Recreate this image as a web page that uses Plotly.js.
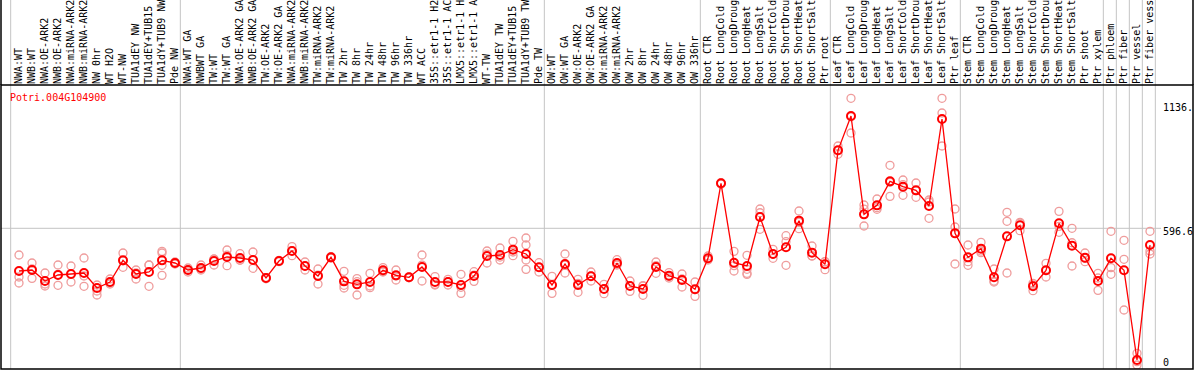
<!DOCTYPE html>
<html><head><meta charset="utf-8">
<script src="https://cdn.plot.ly/plotly-3.0.1.min.js"></script>
<style>html,body{margin:0;padding:0;background:#fff;overflow:hidden}</style>
</head><body>
<div id="chart" style="width:1194px;height:370px"></div>
<script>
const labels = [
 'NWA:WT','NWB:WT','NWA:OE-ARK2','NWB:OE-ARK2','NWA:miRNA-ARK2','NWB:miRNA-ARK2','NW 0hr','WT H2O','WT-NW','TUA1dEY NW','TUA1dEY+TUB15','TUA1dY+TUB9 NW','Pde NW',
 'NWA:WT GA','NWBWT GA','TW:WT','TW:WT GA','NWA:OE-ARK2 GA','NWB:OE-ARK2 GA','TW:OE-ARK2','TW:OE-ARK2 GA','NWA:miRNA-ARK2','NWB:miRNA-ARK2','TW:miRNA-ARK2','TW:miRNA-ARK2','TW 2hr','TW 8hr','TW 24hr','TW 48hr','TW 96hr','TW 336hr','WT ACC','35S::etr1-1 H2','35S::etr1-1 AC','LMX5::etr1-1 H','LMX5::etr1-1 A','WT-TW','TUA1dEY TW','TUA1dEY+TUB15','TUA1dY+TUB9 TW','Pde TW',
 'OW:WT','OW:WT GA','OW:OE-ARK2','OW:OE-ARK2 GA','OW:miRNA-ARK2','OW:miRNA-ARK2','OW 2hr','OW 8hr','OW 24hr','OW 48hr','OW 96hr','OW 336hr',
 'Root CTR','Root LongCold','Root LongDroug','Root LongHeat','Root LongSalt','Root ShortCold','Root ShortDrou','Root ShortHeat','Root ShortSalt','Ptr root',
 'Leaf CTR','Leaf LongCold','Leaf LongDroug','Leaf LongHeat','Leaf LongSalt','Leaf ShortCold','Leaf ShortDrou','Leaf ShortHeat','Leaf ShortSalt','Ptr leaf',
 'Stem CTR','Stem LongCold','Stem LongDroug','Stem LongHeat','Stem LongSalt','Stem ShortCold','Stem ShortDrou','Stem ShortHeat','Stem ShortSalt','Ptr shoot','Ptr xylem',
 'Ptr phloem','Ptr fiber','Ptr vessel','Ptr fiber vess'
];
const groupSizes = [13,28,12,10,10,11,1,1,1,1];

const means = [
 411.6,415.9,368.3,394.3,398.6,403.0,338.0,364.0,457.8,398.6,407.3,457.8,446.3,
 415.9,424.6,454.9,472.3,467.9,459.3,381.3,454.9,498.3,433.3,390.0,470.8,366.8,353.8,364.0,414.5,392.8,384.2,428.9,364.0,364.0,351.0,390.0,476.6,480.9,504.1,485.3,427.5,
 351.0,441.9,351.0,388.5,333.6,446.3,346.6,333.6,428.9,391.4,372.6,332.2,
 466.5,791.5,447.7,433.3,645.6,485.3,514.2,629.7,491.1,440.5,
 934.5,1083.2,657.1,696.1,800.1,777.0,761.1,693.3,1070.2,574.8,
 470.8,508.4,384.2,561.8,609.5,345.2,414.5,618.2,521.4,469.4,368.3,
 466.5,414.5,26.0,524.3
];
const rep1 = [
 480.9,446.3,403.0,437.6,433.3,467.9,351.0,377.0,489.6,415.9,437.6,496.8,450.6,
 424.6,437.6,463.6,502.6,486.7,493.9,383,457,517.1,450.6,420.3,473.7,410.2,378.4,401.5,426.1,415.9,386,480.9,387.1,375.5,397.2,408.7,498.3,511.3,540.2,554.6,447.7,
 388.5,485.3,375.5,407.3,353.8,460.7,368.3,348.1,450.6,404.4,398.6,364.0,
 476.6,794,496.8,479.5,680.3,505.5,564.7,671.6,519.9,452.1,
 953.2,1159.8,697.6,723.6,869.5,805.9,792.9,719.3,1159.8,680.3,
 524.3,535.8,420.3,665.8,622.5,358.2,444.8,670.1,596.5,489.6,401.5,
 583.5,544.5,54.9,583.5
];
const rep2 = [
 385.6,421,355.3,396,398,390.0,325.0,360,456,403,437.6,489.6,446,
 416,420,463,480,458,461,383,452,500,433,394,468,349.5,365.4,346.6,410,390,384,437,351,365,341,394,485,472,494,524.3,427,
 350,437,358,390,334,441,348,346,435,388,377,331,
 464,792,435,419,664,484,538.7,622,477,452,
 933,1080,680,686,796,786,760,710.6,1096.2,602.3,
 452,498,368,626.8,619,351,413,605,534,466,381.3,
 426.1,462.2,19,498.3
];
const rep3 = [
 359.6,379.8,346.6,349.5,364.0,345.2,307.6,355.3,427.5,377.0,345.2,436.2,441.9,
 407.3,415.9,437.6,434.7,459.3,423.2,378,455,478.1,415.9,355.3,471,338.0,307.6,339.4,407.3,372.6,382,368.3,353.8,351.0,314.8,366.8,446.3,459.3,478.1,459.3,407.3,
 314.8,403.0,319.2,368.3,313.4,437.6,323.5,306.2,401.5,381.3,342.3,301.8,
 459.3,788,411.6,401.5,592.2,466.5,436.2,595.0,476.6,417.4,
 917.1,1009.6,606.6,678.8,735.1,739.5,730.8,639.8,953.2,441.9,
 436.2,491.1,364.0,403.0,586.4,326.4,385.6,579.2,433.3,452.1,327.8,
 397.2,242.6,4.3,485.3
];
const rep4 = new Array(88).fill(null);
rep4[11] = 392.8; rep4[39] = 418.8; rep4[56] = 397.0;

const geneId = 'Potri.004G104900';
const refValue = 596.6;
const axisTexts = ['1136.', '596.6', '0'];

// build replicate points
const rx = [], ry = [];
[rep1, rep2, rep3, rep4].forEach(arr => arr.forEach((v, i) => { if (v !== null) { rx.push(i); ry.push(v); } }));
const idx = labels.map((_, i) => i);

const traces = [
 {x: rx, y: ry, type: 'scatter', mode: 'markers', hoverinfo: 'skip',
  marker: {symbol: 'circle-open', size: 8, color: '#ef9c9c', line: {width: 1.3, color: '#ef9c9c'}}},
 {x: idx, y: means, type: 'scatter', mode: 'lines+markers', hoverinfo: 'skip',
  line: {color: '#ff0000', width: 1.3},
  marker: {symbol: 'circle-open', size: 8, color: '#ff0000', line: {width: 2, color: '#ff0000'}}}
];

const shapes = [];
const grey = '#c4c4c4';
shapes.push({type: 'line', layer: 'below', xref: 'x', yref: 'paper', x0: -0.64, x1: -0.64, y0: 0, y1: 1.31, line: {color: grey, width: 1}});
let cum = 0;
groupSizes.forEach(n => { cum += n; const xb = cum - 1 + 0.41;
  shapes.push({type: 'line', layer: 'below', xref: 'x', yref: 'paper', x0: xb, x1: xb, y0: 0, y1: 1.31, line: {color: grey, width: 1}}); });
shapes.push({type: 'line', layer: 'below', xref: 'paper', yref: 'y', x0: 0, x1: 0.9732, y0: refValue, y1: refValue, line: {color: grey, width: 1}});
// frame
shapes.push({type: 'rect', layer: 'above', xref: 'paper', yref: 'paper', x0: 0, x1: 1, y0: 0, y1: 1, line: {color: '#000', width: 1.5}});
shapes.push({type: 'line', layer: 'above', xref: 'paper', yref: 'paper', x0: 0, x1: 0, y0: 1, y1: 1.31, line: {color: '#000', width: 1.5}});
shapes.push({type: 'line', layer: 'above', xref: 'paper', yref: 'paper', x0: 1, x1: 1, y0: 1, y1: 1.31, line: {color: '#000', width: 1.5}});

const mono = 'DejaVu Sans Mono, monospace';
const annotations = [
 {xref: 'paper', yref: 'paper', x: 0.0058, y: 0.9577, xanchor: 'left', yanchor: 'middle', showarrow: false, text: geneId, font: {family: mono, size: 10, color: '#ff0000'}},
 {xref: 'paper', yref: 'paper', x: 0.9735, y: 0.9225, xanchor: 'left', yanchor: 'middle', showarrow: false, text: axisTexts[0], font: {family: mono, size: 10, color: '#000'}},
 {xref: 'paper', yref: 'paper', x: 0.9735, y: 0.4824, xanchor: 'left', yanchor: 'middle', showarrow: false, text: axisTexts[1], font: {family: mono, size: 10, color: '#000'}},
 {xref: 'paper', yref: 'paper', x: 0.9735, y: 0.0236, xanchor: 'left', yanchor: 'middle', showarrow: false, text: axisTexts[2], font: {family: mono, size: 10, color: '#000'}}
];

const layout = {
 width: 1194, height: 370,
 margin: {l: 1, r: 1, t: 85, b: 1, pad: 0},
 paper_bgcolor: '#fff', plot_bgcolor: '#fff',
 showlegend: false,
 font: {family: mono, size: 10, color: '#000'},
 xaxis: {range: [-18/13, 1174/13], side: 'top', tickmode: 'array', tickvals: idx, ticktext: labels,
   tickangle: -90, ticks: '', showgrid: false, zeroline: false, showline: false,
   tickfont: {family: mono, size: 10, color: '#000'}, automargin: false, fixedrange: true},
 yaxis: {range: [-13.0, 1217.5], showticklabels: false, showgrid: false, zeroline: false, ticks: '', fixedrange: true},
 shapes: shapes, annotations: annotations
};
Plotly.newPlot('chart', traces, layout, {staticPlot: true, displayModeBar: false});
</script>
</body></html>
